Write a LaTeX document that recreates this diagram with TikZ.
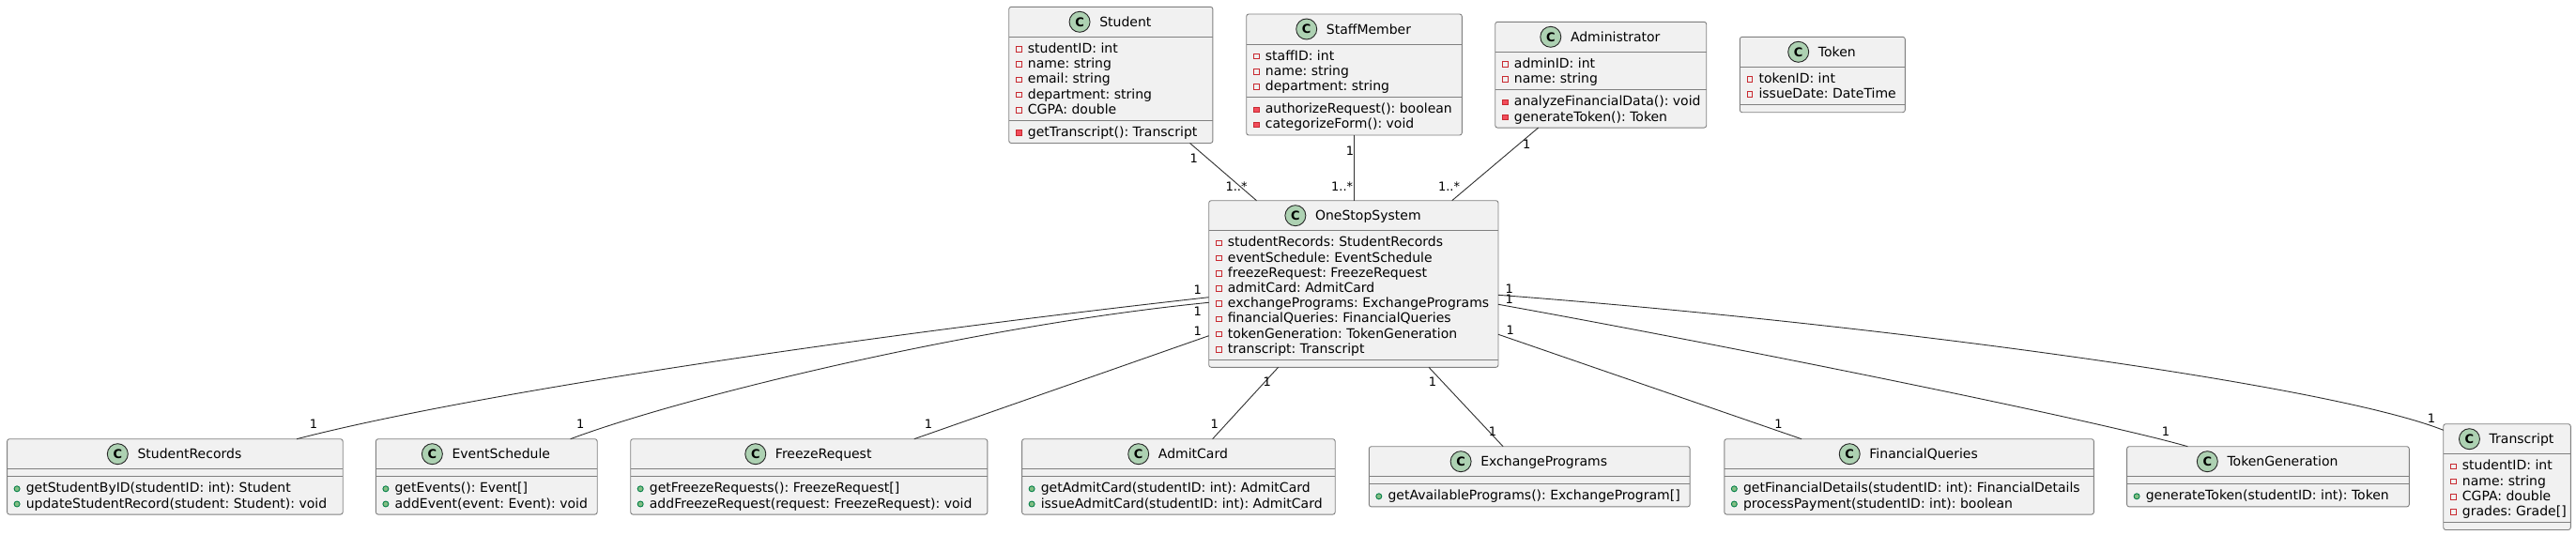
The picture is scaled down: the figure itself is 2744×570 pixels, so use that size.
\documentclass[tikz,border=0pt]{standalone}
\usepackage{fontspec}
\setmainfont{DejaVu Sans}
\frenchspacing
\usetikzlibrary{calc}
\definecolor{boxfill}{HTML}{F1F1F1}
\definecolor{boxline}{HTML}{808080}
\definecolor{conline}{HTML}{303030}
\definecolor{cfill}{HTML}{ADD1B2}
\definecolor{privline}{HTML}{C82930}
\definecolor{privfill}{HTML}{F24D5C}
\definecolor{publine}{HTML}{038048}
\definecolor{pubfill}{HTML}{84BE84}
\tikzset{
 classbox/.style={draw=boxline, fill=boxfill, line width=0.9pt, rounded corners=2.5pt, inner sep=0pt, outer sep=0pt, anchor=north west},
 divline/.style={draw=boxline, line width=0.9pt},
 titletext/.style={inner sep=0pt, font=\fontsize{14}{16}\selectfont, text height=10pt, text depth=0pt},
 rowtext/.style={inner sep=0pt, anchor=west, font=\fontsize{14}{16}\selectfont, text height=10pt, text depth=0pt},
 circC/.style={circle, draw=black!85, fill=cfill, line width=0.9pt, minimum size=22pt, inner sep=0pt, font=\fontsize{13}{13}\bfseries\selectfont},
 privattr/.style={rectangle, draw=privline, line width=0.9pt, minimum size=5.5pt, inner sep=0pt},
 privmeth/.style={rectangle, draw=privline, fill=privfill, line width=0.9pt, minimum size=5.5pt, inner sep=0pt},
 pubmeth/.style={circle, draw=publine, fill=pubfill, line width=0.9pt, minimum size=6pt, inner sep=0pt},
 conn/.style={draw=conline, line width=0.9pt},
 lbl/.style={inner sep=0pt, font=\fontsize{13}{15}\selectfont},
}
\newcommand\umlbox[7]{%
 \def\ucN{#1}%
 \pgfmathsetmacro\ucL{#2}%
 \pgfmathsetmacro\ucA{#3+32}%
 \pgfmathsetmacro\ucM{\ucA+8+#6*16.2}%
 \pgfmathsetmacro\ucB{\ucM+8+#7*16.2}%
 \pgfmathsetmacro\ucW{#4-#2}%
 \pgfmathsetmacro\ucH{\ucB-#3}%
 \pgfmathsetmacro\ucC{(#2+#4)/2+15.5}%
 \node[classbox, minimum width=\ucW pt, minimum height=\ucH pt] (#1) at (#2,#3) {};
 \draw[divline] (#2,\ucA) -- (#4,\ucA);
 \draw[divline] (#2,\ucM) -- (#4,\ucM);
 \node[titletext] (#1-t) at (\ucC,#3+16) {#5};
 \node[circC] (#1-c) at ([xshift=-21pt]#1-t.west) {C};
}
\newcommand\umlattrs[1]{%
 \foreach \mtxt [count=\i from 0] in {#1}{%
  \node[rowtext] (\ucN-a\i) at (\ucL+20,\ucA+12.1+\i*16.2) {\mtxt};
  \node[privattr] (\ucN-am\i) at (\ucL+10.5,\ucA+13.1+\i*16.2) {};
 }%
}
\newcommand\umlmeths[2]{%
 \foreach \mtxt [count=\i from 0] in {#2}{%
  \node[rowtext] (\ucN-m\i) at (\ucL+20,\ucM+12.1+\i*16.2) {\mtxt};
  \node[#1] (\ucN-mm\i) at (\ucL+10.5,\ucM+13.1+\i*16.2) {};
 }%
}
\begin{document}
\begin{tikzpicture}[x=1pt,y=-1pt]
\useasboundingbox (0,0) rectangle (2744,570);
\fill[white] (0,0) rectangle (2744,570);

% top row
\umlbox{student}{1074.7}{7.3}{1291.9}{Student}{5}{1}
\umlattrs{studentID: int, name: string, email: string, department: string, CGPA: double}
\umlmeths{privmeth}{getTranscript(): Transcript}

\umlbox{staff}{1327.7}{15}{1557.3}{StaffMember}{3}{2}
\umlattrs{staffID: int, name: string, department: string}
\umlmeths{privmeth}{authorizeRequest(): boolean, categorizeForm(): void}

\umlbox{admin}{1592.7}{23.3}{1817.7}{Administrator}{2}{2}
\umlattrs{adminID: int, name: string}
\umlmeths{privmeth}{analyzeFinancialData(): void, generateToken(): Token}

\umlbox{token}{1853.3}{39.3}{2029.3}{Token}{2}{0}
\umlattrs{tokenID: int, issueDate: DateTime}

% center
\umlbox{oss}{1287.7}{213.7}{1596}{OneStopSystem}{8}{0}
\umlattrs{studentRecords: StudentRecords, eventSchedule: EventSchedule, freezeRequest: FreezeRequest, admitCard: AdmitCard, exchangePrograms: ExchangePrograms, financialQueries: FinancialQueries, tokenGeneration: TokenGeneration, transcript: Transcript}

% bottom row
\umlbox{sr}{7.6}{467.7}{365.2}{StudentRecords}{0}{2}
\umlmeths{pubmeth}{getStudentByID(studentID: int): Student, updateStudentRecord(student: Student): void}

\umlbox{es}{400.4}{467.7}{636.2}{EventSchedule}{0}{2}
\umlmeths{pubmeth}{getEvents(): Event[], addEvent(event: Event): void}

\umlbox{fr}{671.7}{467.7}{1051.8}{FreezeRequest}{0}{2}
\umlmeths{pubmeth}{getFreezeRequests(): FreezeRequest[], addFreezeRequest(request: FreezeRequest): void}

\umlbox{ac}{1088.6}{467.7}{1422.2}{AdmitCard}{0}{2}
\umlmeths{pubmeth}{getAdmitCard(studentID: int): AdmitCard, issueAdmitCard(studentID: int): AdmitCard}

\umlbox{ep}{1458.3}{475.7}{1800.1}{ExchangePrograms}{0}{1}
\umlmeths{pubmeth}{getAvailablePrograms(): ExchangeProgram[]}

\umlbox{fq}{1836.8}{467.7}{2230.4}{FinancialQueries}{0}{2}
\umlmeths{pubmeth}{getFinancialDetails(studentID: int): FinancialDetails, processPayment(studentID: int): boolean}

\umlbox{tg}{2265.6}{475.7}{2566.3}{TokenGeneration}{0}{1}
\umlmeths{pubmeth}{generateToken(studentID: int): Token}

\umlbox{tr}{2602.7}{451.7}{2738.3}{Transcript}{4}{0}
\umlattrs{studentID: int, name: string, CGPA: double, grades: Grade[]}

% connectors
\draw[conn] ([xshift=192.8pt]student.south west) -- ([xshift=50.8pt]oss.north west);
\draw[conn] (staff.south) -- (staff.south |- oss.north);
\draw[conn] ([xshift=45.9pt]admin.south west) -- ([xshift=259pt]oss.north west);
\draw[conn] ([yshift=-103pt]oss.north west) .. controls +(-387.7,43.3) and +(184,-47.7) .. ([xshift=308.5pt]sr.north west);
\draw[conn] ([yshift=-108.6pt]oss.north west) .. controls +(-250,24.7) and +(120,-45) .. ([xshift=207.2pt]es.north west);
\draw[conn] ([yshift=-144pt]oss.north west) -- ([xshift=302.1pt]fr.north west);
\draw[conn] ([xshift=73.9pt]oss.south west) -- ([xshift=203pt]ac.north west);
\draw[conn] ([xshift=234.3pt]oss.south west) -- ([xshift=142.8pt]ep.north west);
\draw[conn] ([yshift=-142.6pt]oss.north east) -- ([xshift=82.2pt]fq.north west);
\draw[conn] ([yshift=-110.6pt]oss.north east) .. controls +(250,45) and +(-100.4,-28.7) .. ([xshift=64.8pt]tg.north west);
\draw[conn] ([yshift=-100.6pt]oss.north east) .. controls +(404,30.7) and +(-121.6,-48.3) .. ([yshift=-6.6pt]tr.north west);

% multiplicities
\node[lbl] (q1) at (1271.7,168.7) {1};
\node[lbl] (q2) at (1317.1,198.3) {1..*};
\node[lbl] (q3) at (1437.9,161) {1};
\node[lbl] (q4) at (1429.6,198.3) {1..*};
\node[lbl] (q5) at (1626.2,153.3) {1};
\node[lbl] (q6) at (1543.5,198.3) {1..*};
\node[lbl] (q7) at (1275.8,309) {1};
\node[lbl] (q8) at (1275.8,331.7) {1};
\node[lbl] (q9) at (1275.8,352.7) {1};
\node[lbl] (q10) at (1607.8,307.3) {1};
\node[lbl] (q11) at (1607.8,319) {1};
\node[lbl] (q12) at (1608.8,351.7) {1};
\node[lbl] (q13) at (333.9,452) {1};
\node[lbl] (q14) at (618.3,452) {1};
\node[lbl] (q15) at (989.1,452) {1};
\node[lbl] (q16) at (1293.7,452) {1};
\node[lbl] (q17) at (1349.8,406.7) {1};
\node[lbl] (q18) at (1526.1,406.7) {1};
\node[lbl] (q19) at (1589.9,460) {1};
\node[lbl] (q20) at (1894.5,451.7) {1};
\node[lbl] (q21) at (2307,460) {1};
\node[lbl] (q22) at (2590,445.7) {1};
\end{tikzpicture}
\end{document}
